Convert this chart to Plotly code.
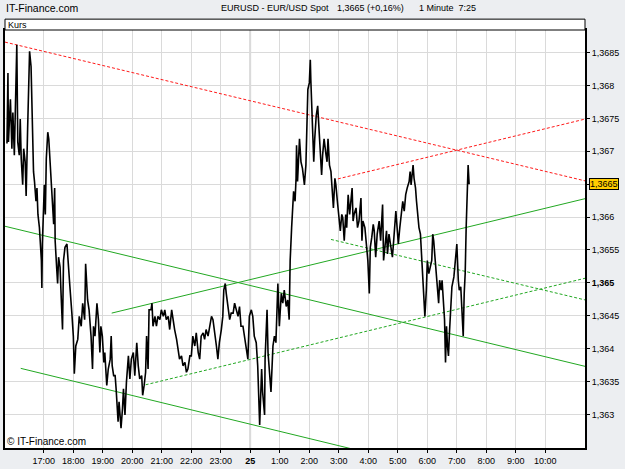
import plotly.graph_objects as go

# ---- price data: minutes since 00:00 of the 24th, EUR/USD quote ----
time_a = [945, 947, 948, 952, 955, 957, 960, 962, 963, 965,
          967, 970, 972, 974, 977, 979, 982, 984, 987, 989,
          991, 994, 996, 999, 1001, 1004, 1006, 1008, 1011, 1013,
          1015, 1016, 1017, 1021, 1023, 1025, 1028, 1030, 1032, 1035,
          1038, 1040, 1042, 1043, 1046, 1048, 1050, 1053, 1055, 1058,
          1060, 1063, 1067, 1070, 1073, 1077, 1080, 1082, 1085, 1089,
          1092, 1096, 1099, 1103, 1105, 1109, 1112, 1116, 1119, 1121,
          1124, 1128, 1131, 1134, 1136, 1139, 1142, 1144, 1148, 1151,
          1155, 1157, 1159, 1162, 1165, 1167, 1169, 1171, 1173, 1175,
          1177, 1180]
price_a = [1.36712, 1.36819, 1.36714, 1.36779, 1.36704, 1.36759, 1.36694, 1.36769, 1.36834, 1.36862,
           1.36714, 1.36694, 1.36749, 1.36689, 1.36649, 1.36704, 1.36684, 1.36632, 1.36734, 1.36809,
           1.36852, 1.36829, 1.36739, 1.36669, 1.36654, 1.36624, 1.36644, 1.36604, 1.36584, 1.36554,
           1.36534, 1.36492, 1.36559, 1.36649, 1.36604, 1.36689, 1.36729, 1.36719, 1.36694, 1.36649,
           1.36609, 1.36589, 1.36644, 1.36564, 1.36524, 1.36499, 1.36539, 1.36524, 1.36484, 1.36429,
           1.36534, 1.36554, 1.36559, 1.36519, 1.36494, 1.36454, 1.36419, 1.36362, 1.36404, 1.36414,
           1.36449, 1.36434, 1.36469, 1.36444, 1.36529, 1.36474, 1.36459, 1.36419, 1.36369, 1.36434,
           1.36419, 1.36469, 1.36444, 1.36394, 1.36434, 1.36419, 1.36379, 1.36394, 1.36344, 1.36369,
           1.36384, 1.36419, 1.36374, 1.36359, 1.36359, 1.36339, 1.36309, 1.36289, 1.36319, 1.36304,
           1.36279, 1.36309]

time_b = [1182, 1185, 1188, 1192, 1195, 1198, 1202, 1205, 1209, 1212,
          1215, 1219, 1221, 1224, 1227, 1229, 1232, 1234, 1238, 1240,
          1242, 1246, 1249, 1252, 1256, 1259, 1263, 1266, 1269, 1273,
          1276, 1280, 1283, 1286, 1290, 1293, 1296, 1300, 1303, 1307,
          1310, 1313, 1317, 1320, 1323, 1327, 1330, 1334, 1337, 1340,
          1344, 1347, 1350, 1354, 1357, 1361, 1364, 1367, 1371, 1374,
          1377, 1381, 1384, 1386, 1389, 1391, 1394, 1398, 1401, 1405,
          1408, 1411, 1415, 1418, 1421]
price_b = [1.36339, 1.36299, 1.36349, 1.36389, 1.36354, 1.36384, 1.36394, 1.36359, 1.36409, 1.36374,
           1.36354, 1.36359, 1.36329, 1.36344, 1.36364, 1.36419, 1.36369, 1.36459, 1.36459, 1.36469,
           1.36434, 1.36449, 1.36434, 1.36449, 1.36444, 1.36459, 1.36449, 1.36459, 1.36444, 1.36449,
           1.36429, 1.36459, 1.36439, 1.36429, 1.36414, 1.36394, 1.36384, 1.36389, 1.36374, 1.36379,
           1.36364, 1.36369, 1.36389, 1.36389, 1.36419, 1.36404, 1.36424, 1.36394, 1.36384, 1.36419,
           1.36424, 1.36414, 1.36429, 1.36419, 1.36434, 1.36449, 1.36444, 1.36429, 1.36404, 1.36384,
           1.36409, 1.36429, 1.36449, 1.36489, 1.36499, 1.36484, 1.36469, 1.36444, 1.36454, 1.36454,
           1.36469, 1.36459, 1.36449, 1.36464, 1.36434]

time_c = [1425, 1428, 1432, 1435, 1438, 1442, 1445, 1448, 1452, 1455,
          1459, 1461, 1463, 1465, 1469, 1470, 1474, 1476, 1479, 1482,
          1486, 1489, 1492, 1496, 1499, 1503, 1506, 1509, 1513, 1516,
          1519, 1521, 1524, 1526, 1528, 1531, 1533, 1534, 1536, 1540,
          1543, 1546, 1550, 1553, 1555, 1557, 1560, 1562, 1563, 1565,
          1567, 1569, 1571, 1574, 1577, 1580, 1582, 1585, 1587, 1590,
          1594, 1596, 1598, 1601, 1604, 1607, 1609, 1612, 1614, 1617,
          1621, 1623, 1626, 1628, 1631, 1634, 1636, 1639, 1642, 1644,
          1647, 1649, 1651, 1655]
price_c = [1.36434, 1.36419, 1.36404, 1.36384, 1.36449, 1.36459, 1.36449, 1.36419, 1.36409, 1.36374,
           1.36284, 1.36334, 1.36369, 1.36334, 1.36299, 1.36384, 1.36459, 1.36394, 1.36364, 1.36334,
           1.36404, 1.36419, 1.36409, 1.36499, 1.36434, 1.36484, 1.36469, 1.36489, 1.36464, 1.36474,
           1.36444, 1.36534, 1.36584, 1.36604, 1.36639, 1.36624, 1.36659, 1.36709, 1.36654, 1.36719,
           1.36684, 1.36674, 1.36649, 1.36679, 1.36734, 1.36794, 1.36804, 1.36839, 1.36809, 1.36764,
           1.36734, 1.36684, 1.36719, 1.36754, 1.36769, 1.36724, 1.36709, 1.36664, 1.36694, 1.36719,
           1.36694, 1.36684, 1.36719, 1.36679, 1.36669, 1.36639, 1.36614, 1.36659, 1.36649, 1.36624,
           1.36594, 1.36579, 1.36604, 1.36599, 1.36564, 1.36604, 1.36584, 1.36634, 1.36604, 1.36619,
           1.36644, 1.36594, 1.36604, 1.36614]

time_d = [1658, 1661, 1665, 1667, 1669, 1673, 1676, 1679, 1682, 1684,
          1687, 1690, 1692, 1695, 1698, 1702, 1705, 1709, 1711, 1714,
          1717, 1719, 1722, 1725, 1729, 1732, 1736, 1738, 1741, 1744,
          1747, 1750, 1753, 1756, 1759, 1763, 1765, 1767, 1769, 1771,
          1773, 1776, 1778, 1780, 1783, 1786, 1788, 1791, 1793, 1795,
          1798, 1800, 1803, 1806, 1809, 1811, 1813, 1815, 1818, 1820,
          1823, 1825, 1828, 1830, 1833, 1835, 1837, 1839, 1841, 1843,
          1845, 1848, 1850, 1854, 1857, 1860, 1863, 1865, 1868, 1871,
          1873, 1875, 1877, 1879, 1881, 1883, 1884, 1885]
price_d = [1.36584, 1.36594, 1.36629, 1.36564, 1.36594, 1.36584, 1.36559, 1.36534, 1.36484, 1.36554,
           1.36569, 1.36589, 1.36579, 1.36539, 1.36574, 1.36594, 1.36564, 1.36619, 1.36534, 1.36564,
           1.36579, 1.36544, 1.36574, 1.36559, 1.36539, 1.36569, 1.36609, 1.36589, 1.36559, 1.36584,
           1.36604, 1.36624, 1.36609, 1.36634, 1.36644, 1.36654, 1.36669, 1.36649, 1.36664, 1.36679,
           1.36659, 1.36644, 1.36624, 1.36604, 1.36584, 1.36574, 1.36544, 1.36504, 1.36474, 1.36449,
           1.36489, 1.36534, 1.36514, 1.36524, 1.36534, 1.36574, 1.36564, 1.36544, 1.36519, 1.36494,
           1.36469, 1.36504, 1.36489, 1.36504, 1.36469, 1.36444, 1.36379, 1.36434, 1.36404, 1.36389,
           1.36424, 1.36459, 1.36494, 1.36509, 1.36534, 1.36559, 1.36504, 1.36489, 1.36494, 1.36459,
           1.36419, 1.36484, 1.36514, 1.36584, 1.36634, 1.36679, 1.36664, 1.36650]

# ---- trend lines (start/end in time, price) ----
red_down_t = [941, 2121]
red_down_p = [1.36866, 1.36655]
red_up_t = [1618, 2121]
red_up_p = [1.36658, 1.36749]
green_up_t = [1158, 2121]
green_up_p = [1.36454, 1.36628]
green_down_t = [941, 2121]
green_down_p = [1.36586, 1.36373]
green_low_t = [973, 1644]
green_low_p = [1.36370, 1.36248]
green_dot_up_t = [1227, 2121]
green_dot_up_p = [1.36345, 1.36507]
green_dot_down_t = [1604, 2121]
green_dot_down_p = [1.36566, 1.36474]

# ---- axes ----
x_tick_vals = [1020, 1080, 1140, 1200, 1260, 1320, 1380, 1440, 1500, 1560,
               1620, 1680, 1740, 1800, 1860, 1920, 1980, 2040]
x_tick_text = ["17:00", "18:00", "19:00", "20:00", "21:00", "22:00", "23:00", "<b>25</b>",
               "1:00", "2:00", "3:00", "4:00", "5:00", "6:00", "7:00", "8:00", "9:00", "10:00"]
y_tick_vals = [1.363, 1.3635, 1.364, 1.3645, 1.365, 1.3655, 1.366, 1.3665,
               1.367, 1.3675, 1.368, 1.3685]
y_tick_text = ["1,363", "1,3635", "1,364", "1,3645", "<b>1,365</b>", "1,3655", "1,366", "",
               "1,367", "1,3675", "1,368", "1,3685"]
last_price = 1.3665
last_label = "1,3665"
x_range = [941, 2120.7]
y_range = [1.362489, 1.368844]

time_all = time_a + time_b + time_c + time_d
price_all = price_a + price_b + price_c + price_d
assert len(time_all) == len(price_all)

FONT = "Liberation Sans, Arial, sans-serif"
RED = "#ff1a1a"
GREEN = "#22a822"

fig = go.Figure()

def seg(t, p, color, dash):
    fig.add_trace(go.Scatter(x=t, y=p, mode="lines",
                             line=dict(color=color, width=1, dash=dash),
                             hoverinfo="skip", showlegend=False))

seg(red_down_t, red_down_p, RED, "3px,2px")
seg(red_up_t, red_up_p, RED, "3px,2px")
seg(green_up_t, green_up_p, GREEN, "solid")
seg(green_down_t, green_down_p, GREEN, "solid")
seg(green_low_t, green_low_p, GREEN, "solid")
seg(green_dot_up_t, green_dot_up_p, GREEN, "3px,2px")
seg(green_dot_down_t, green_dot_down_p, GREEN, "3px,2px")

fig.add_trace(go.Scatter(x=time_all, y=price_all, mode="lines",
                         line=dict(color="black", width=1.6),
                         showlegend=False, name="EURUSD"))

# day separator gridline
fig.add_shape(type="line", xref="x", yref="paper", x0=1440, x1=1440, y0=0, y1=1,
              line=dict(color="#b0b0b0", width=1.5), layer="below")

# "Kurs" panel header box
fig.add_shape(type="rect", xref="paper", yref="paper", x0=0, x1=1.0, y0=1.0, y1=1.026,
              line=dict(color="black", width=1), fillcolor="white")

HDR = dict(size=9, family=FONT, color="black")

fig.update_layout(
    width=625, height=469,
    margin=dict(l=3, r=40, t=30, b=15),
    paper_bgcolor="#eceef1",
    plot_bgcolor="white",
    font=dict(family=FONT, size=9, color="black"),
    showlegend=False,
    xaxis=dict(range=x_range, tickvals=x_tick_vals, ticktext=x_tick_text,
               showgrid=True, gridcolor="#dadada", gridwidth=1,
               ticks="outside", ticklen=3, tickcolor="black",
               showline=True, linecolor="black", linewidth=2, mirror=True,
               zeroline=False, tickfont=dict(size=9, family=FONT)),
    yaxis=dict(range=y_range, side="right", tickvals=y_tick_vals, ticktext=y_tick_text,
               showgrid=True, gridcolor="#dadada", gridwidth=1,
               ticks="outside", ticklen=3, tickcolor="black",
               showline=True, linecolor="black", linewidth=2, mirror=True,
               zeroline=False, tickfont=dict(size=9, family=FONT)),
    annotations=[
        dict(text="IT-Finance.com", xref="paper", yref="paper", x=-0.002, y=1.052,
             xanchor="left", yanchor="middle", showarrow=False,
             font=dict(size=10.5, family=FONT, color="black")),
        dict(text="EURUSD - EUR/USD Spot", xref="paper", yref="paper", x=0.3694, y=1.052,
             xanchor="left", yanchor="middle", showarrow=False, font=HDR),
        dict(text="1,3665 (+0,16%)", xref="paper", yref="paper", x=0.5687, y=1.052,
             xanchor="left", yanchor="middle", showarrow=False, font=HDR),
        dict(text="1 Minute  7:25", xref="paper", yref="paper", x=0.7096, y=1.052,
             xanchor="left", yanchor="middle", showarrow=False, font=HDR),
        dict(text="Kurs", xref="paper", yref="paper", x=0.002, y=1.013,
             xanchor="left", yanchor="middle", showarrow=False,
             font=dict(size=9, family=FONT, color="black")),
        dict(text="© IT-Finance.com", xref="paper", yref="paper", x=0.0, y=0.015,
             xanchor="left", yanchor="middle", showarrow=False,
             font=dict(size=10, family=FONT, color="black")),
        dict(text=last_label, xref="paper", yref="y", x=1.007, y=last_price,
             xanchor="left", yanchor="middle", showarrow=False,
             bgcolor="#ffcc00", bordercolor="black", borderwidth=1, borderpad=0,
             font=dict(size=9, family=FONT, color="black")),
    ],
)

fig.write_html("out.html")
